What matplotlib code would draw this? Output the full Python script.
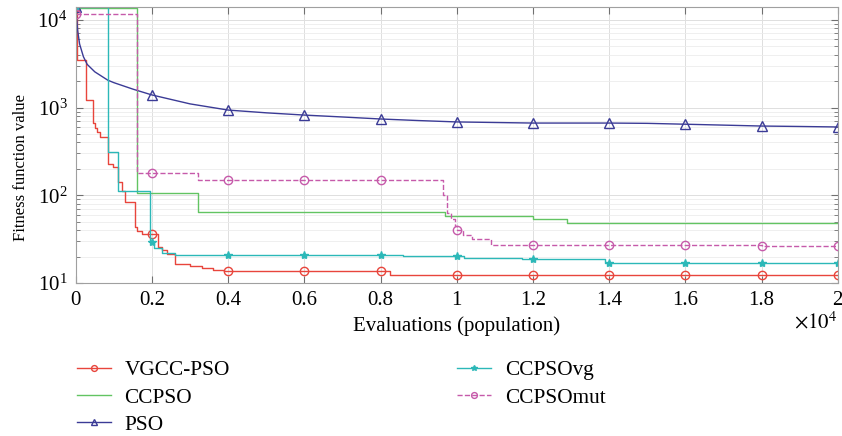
import numpy as np
import matplotlib
matplotlib.use("Agg")
import matplotlib.pyplot as plt
from matplotlib.ticker import FuncFormatter, LogLocator

plt.rcParams['font.family'] = ['Liberation Serif', 'DejaVu Serif']
plt.rcParams['mathtext.fontset'] = 'stix'

# step series: evaluation where the best value changes, and the new value
vgcc_x = [0, 30, 280, 450, 500, 550, 630, 850, 980, 1100, 1200, 1300, 1550,
          1600, 1750, 2150, 2250, 2400, 2600, 3000, 3300, 3600, 3900, 8250]
vgcc_y = [14000, 3500, 1220, 660, 585, 525, 460, 230, 210, 140, 113, 83, 43,
          39, 36, 25.5, 23.5, 21.5, 16.5, 15.8, 15, 14.2, 13.6, 12.4]

ccpso_x = [0, 1600, 3200, 9700, 12000, 12900]
ccpso_y = [13500, 105, 64, 58, 54, 48]

vg_x = [0, 850, 1100, 1950, 2050, 2250, 2600, 8600, 10200, 11700, 13900]
vg_y = [14000, 310, 112, 29, 25, 22, 21, 20.3, 19.5, 18.7, 17]

mut_x = [0, 1600, 3200, 9650, 9750, 9850, 9950, 10000, 10150, 10400, 10900, 18000]
mut_y = [11500, 180, 150, 100, 63, 54, 45, 40, 35, 32, 27, 26.5]

# PSO is a smooth decay
pso_x = [0, 50, 100, 200, 300, 500, 840, 1000, 1500, 2000, 3000, 4000, 5000,
         6000, 7000, 8000, 9000, 10000, 11000, 12000, 13000, 14000, 15000,
         16000, 17000, 18000, 19000, 20000]
pso_y = [14000, 7500, 5300, 3800, 3100, 2550, 2050, 1920, 1620, 1390, 1100, 935,
         870, 820, 780, 740, 710, 685, 675, 665, 665, 665, 660, 645, 630, 615,
         608, 600]

x_max = 20000
marks = np.arange(0, x_max + 1, 2000)


def step_with_marks(xs, ys):
    xa = np.union1d(xs, marks)
    idx = np.searchsorted(xs, xa, side='right') - 1
    ya = np.asarray(ys)[idx]
    return xa, ya, np.isin(xa, marks)


fig = plt.figure(figsize=(8.42, 4.36), dpi=100)
ax = fig.add_axes([0.090, 0.351, 0.905, 0.633])

xa, ya, m = step_with_marks(vgcc_x, vgcc_y)
ax.plot(xa, ya, drawstyle='steps-post', color='#e8453c', lw=1.0, marker='o',
        ms=6, mfc='none', markevery=list(np.where(m)[0]), label='VGCC-PSO')

xa, ya, m = step_with_marks(ccpso_x, ccpso_y)
ax.plot(xa, ya, drawstyle='steps-post', color='#62c462', lw=1.0, label='CCPSO')

pso_mask = np.isin(pso_x, marks)
ax.plot(pso_x, pso_y, color='#3b3b96', lw=1.0, marker='^', ms=7, mfc='none',
        markevery=list(np.where(pso_mask)[0]), label='PSO')

xa, ya, m = step_with_marks(vg_x, vg_y)
ax.plot(xa, ya, drawstyle='steps-post', color='#2cb8b8', lw=1.0, marker='*',
        ms=6, markevery=list(np.where(m)[0]), label='CCPSOvg')

xa, ya, m = step_with_marks(mut_x, mut_y)
ax.plot(xa, ya, drawstyle='steps-post', color='#c65aaa', lw=1.0, ls='--',
        marker='o', ms=6, mfc='none', markevery=list(np.where(m)[0]),
        label='CCPSOmut')

ax.set_yscale('log')
ax.set_xlim(0, x_max)
ax.set_ylim(10, 14000)
ax.set_xticks(marks)
ax.xaxis.set_major_formatter(FuncFormatter(lambda v, p: '%g' % (v / 1e4)))
ax.yaxis.set_minor_locator(LogLocator(base=10, subs=np.arange(2, 10)))

ax.grid(True, which='major', color='#dedede', lw=0.7)
ax.grid(True, which='minor', axis='y', color='#ececec', lw=0.6)
ax.set_axisbelow(True)
for s in ax.spines.values():
    s.set_color('#a0a0a0')
    s.set_linewidth(0.8)
ax.tick_params(which='both', direction='in', top=True, right=True,
               color='#707070', labelsize=15, pad=6)
ax.tick_params(which='major', length=5)
ax.tick_params(which='minor', length=3)

ax.set_xlabel('Evaluations (population)', fontsize=15, labelpad=4)
ax.set_ylabel('Fitness function value', fontsize=12)
ax.yaxis.set_label_coords(-0.062, 0.42)
ax.text(1.0, -0.105, r'$\times10^4$', transform=ax.transAxes, ha='right',
        va='top', fontsize=15)

fig.legend(loc='upper left', bbox_to_anchor=(0.091, 0.1735), ncol=2,
           frameon=False, fontsize=15.3, handlelength=1.6, handletextpad=0.65,
           columnspacing=10.7, labelspacing=0.35, borderpad=0, borderaxespad=0,
           markerscale=0.7)

fig.savefig('out.png', dpi=100)
